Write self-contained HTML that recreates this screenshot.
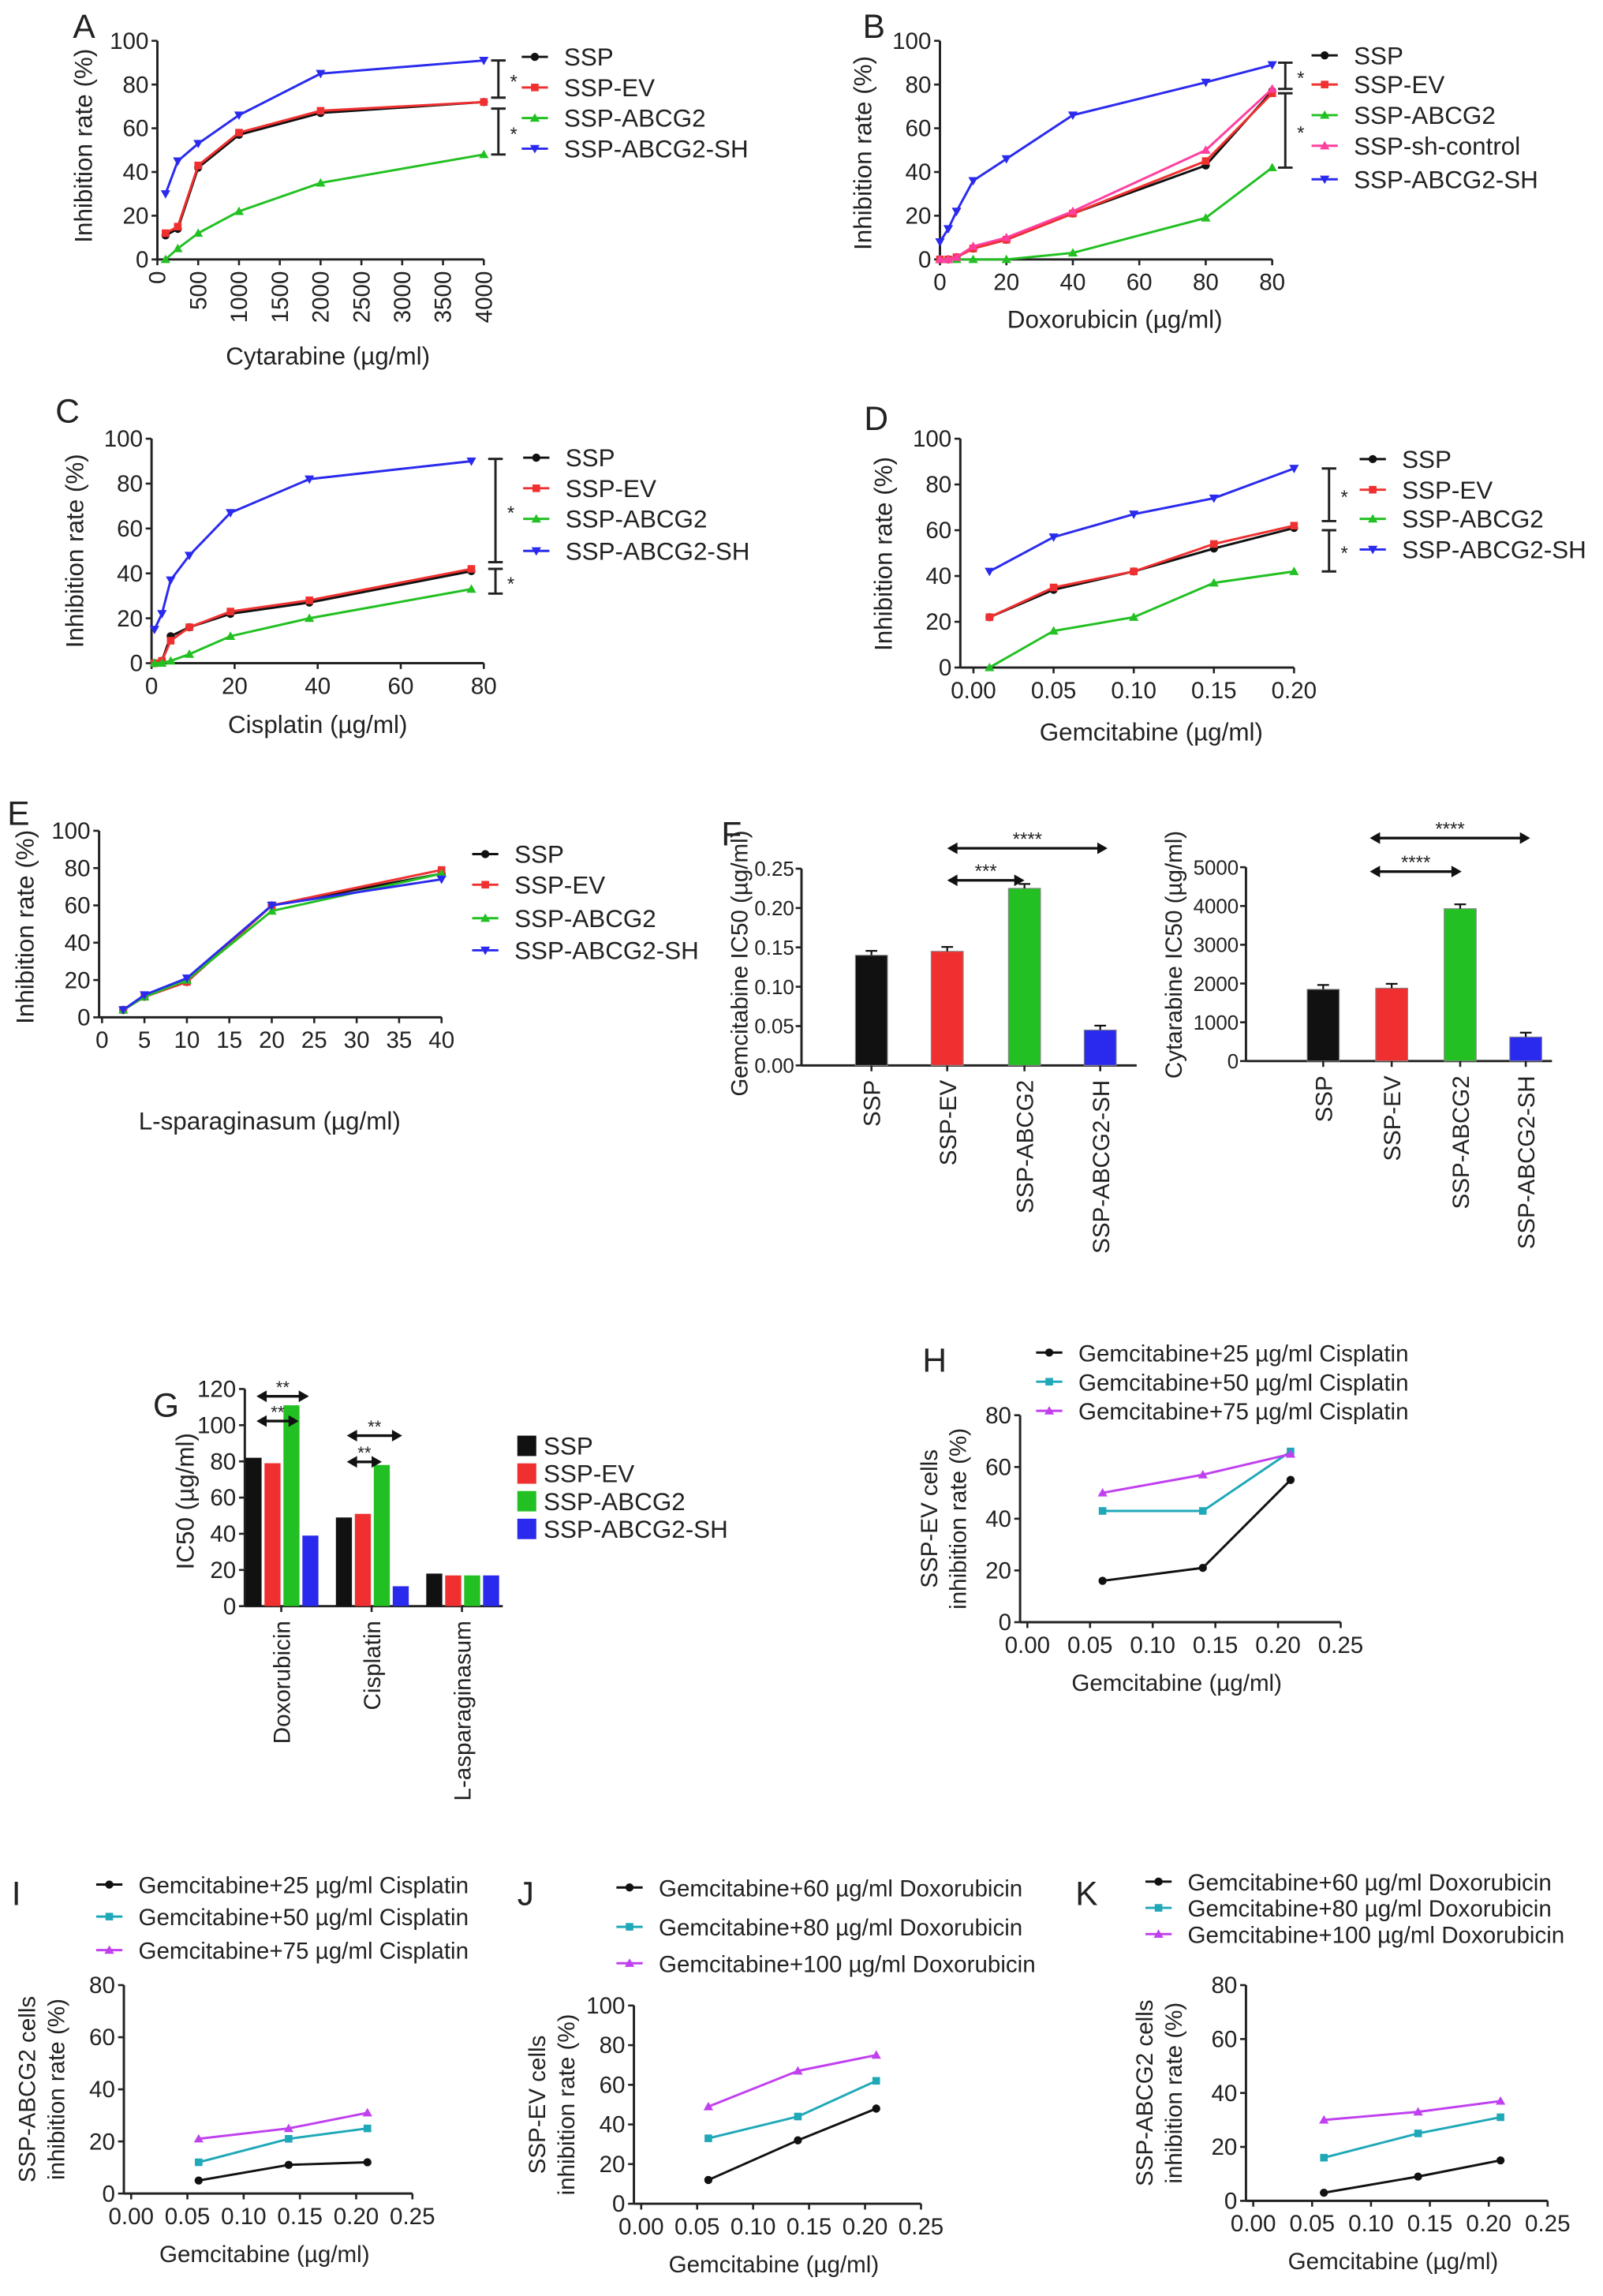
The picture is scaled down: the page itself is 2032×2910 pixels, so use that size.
<!DOCTYPE html>
<html><head><meta charset="utf-8"><style>
html,body{margin:0;padding:0;background:#fff}
svg{display:block}
text{font-family:"Liberation Sans",sans-serif;fill:#222}
</style></head><body>
<svg id="fig" width="2032" height="2910" viewBox="0 0 1100 1575.3" xmlns="http://www.w3.org/2000/svg"></svg>
<script>
// ===== Data =====
const seriesNames4=["SSP","SSP-EV","SSP-ABCG2","SSP-ABCG2-SH"];
const seriesNamesB=["SSP","SSP-EV","SSP-ABCG2","SSP-sh-control","SSP-ABCG2-SH"];
// A
const aX=[100,250,500,1000,2000,4000];
const aSSP=[11,14,42,57,67,72];
const aEV=[12,15,43,58,68,72];
const aABCG2=[0,5,12,22,35,48];
const aSH=[30,45,53,66,85,91];
const aXTicks=[0,500,1000,1500,2000,2500,3000,3500,4000];
// B
const bX=[0,2.5,5,10,20,40,80,100];
const bSSP=[0,0,1,5,9,21,43,77];
const bEV=[0,0,1,5,9,21,45,76];
const bABCG2=[0,0,0,0,0,3,19,42];
const bCtrl=[0,0,1,6,10,22,50,78];
const bSH=[8,14,22,36,46,66,81,89];
const bXTickVals=[0,20,40,60,80,100];
const bXTickLabels=["0","20","40","60","80","80"];
// C
const cX=[0.7,2.5,4.6,9.1,19,38,77];
const cSSP=[0,1,12,16,22,27,41];
const cEV=[0,1,10,16,23,28,42];
const cABCG2=[0,0,1,4,12,20,33];
const cSH=[15,22,37,48,67,82,90];
const cXTicks=[0,20,40,60,80];
// D
const dX=[0.01,0.05,0.10,0.15,0.20];
const dSSP=[22,34,42,52,61];
const dEV=[22,35,42,54,62];
const dABCG2=[0,16,22,37,42];
const dSH=[42,57,67,74,87];
const dXTicks=[0,0.05,0.10,0.15,0.20];
// E
const eX=[2.5,5,10,20,40];
const eSSP=[4,11,19,60,77];
const eEV=[4,11,19,60,79];
const eABCG2=[4,11,20,57,77];
const eSH=[4,12,21,60,74];
const eXTicks=[0,5,10,15,20,25,30,35,40];
// F
const fCats=["SSP","SSP-EV","SSP-ABCG2","SSP-ABCG2-SH"];
const fGem=[0.14,0.145,0.225,0.045];
const fCyt=[1850,1880,3930,620];
// G
const gGroups=["Doxorubicin","Cisplatin","L-asparaginasum"];
const gSSP=[82,49,18];
const gEV=[79,51,17];
const gABCG2=[111,78,17];
const gSH=[39,11,17];
// H-K
const hkX=[0.06,0.14,0.21];
const hkXTicks=[0,0.05,0.10,0.15,0.20,0.25];
const h25=[16,21,55], h50=[43,43,66], h75=[50,57,65];
const i25=[5,11,12], i50=[12,21,25], i75=[21,25,31];
const j60=[12,32,48], j80=[33,44,62], j100=[49,67,75];
const k60=[3,9,15], k80=[16,25,31], k100=[30,33,37];
const cisNames=["Gemcitabine+25 µg/ml Cisplatin","Gemcitabine+50 µg/ml Cisplatin","Gemcitabine+75 µg/ml Cisplatin"];
const doxNames=["Gemcitabine+60 µg/ml Doxorubicin","Gemcitabine+80 µg/ml Doxorubicin","Gemcitabine+100 µg/ml Doxorubicin"];

// ===== helpers =====
const NS="http://www.w3.org/2000/svg";
const svg=document.getElementById('fig');
function el(tag,attrs,parent,txt){const e=document.createElementNS(NS,tag);for(const k in attrs)e.setAttribute(k,attrs[k]);if(txt!==undefined)e.textContent=txt;(parent||svg).appendChild(e);return e;}
function grp(name,parent){const g=el('g',{},parent);


return g;}
const COL={k:"#111",r:"#f03030",g:"#22c022",b:"#2a2aee",p:"#ff3fa0",c:"#1fa8b8",m:"#c040f0"};
function marker(g,shape,x,y,c){
  if(shape==='circle')el('circle',{cx:x,cy:y,r:2.8,fill:c},g);
  else if(shape==='square')el('rect',{x:x-2.6,y:y-2.6,width:5.2,height:5.2,fill:c},g);
  else if(shape==='tri')el('polygon',{points:`${x},${y-3.3} ${x-3.3},${y+2.5} ${x+3.3},${y+2.5}`,fill:c},g);
  else if(shape==='tridown')el('polygon',{points:`${x},${y+3.3} ${x-3.3},${y-2.5} ${x+3.3},${y-2.5}`,fill:c},g);
}
function fmt(v,d){return d?v.toFixed(d):String(v);}
function axes(g,c){
  const sx=v=>c.x0+(v-c.xmin)/(c.xmax-c.xmin)*(c.x1-c.x0);
  const sy=v=>c.y0+(v-c.ymin)/(c.ymax-c.ymin)*(c.y1-c.y0);
  el('line',{x1:c.ax,y1:c.y0,x2:c.ax,y2:c.y1,stroke:"#222","stroke-width":1.6},g);
  el('line',{x1:c.ax,y1:c.y0,x2:c.axEnd,y2:c.y0,stroke:"#222","stroke-width":1.6},g);
  for(let v=c.ymin;v<=c.ymax+1e-9;v+=c.ystep){const y=sy(v);
    el('line',{x1:c.ax-4,y1:y,x2:c.ax,y2:y,stroke:"#222","stroke-width":1.4},g);
    const t=el('text',{x:c.ax-6,y:y+5.5,"text-anchor":"end","font-size":c.fs||16},g,fmt(v,c.yd));
    
    
  }
  if(c.xticks){c.xticks.forEach((v,i)=>{const x=sx(v);
    el('line',{x1:x,y1:c.y0,x2:x,y2:c.y0+4,stroke:"#222","stroke-width":1.4},g);
    const lab=c.xlabels?c.xlabels[i]:fmt(v,c.xd);
    let t;
    if(c.rotX){t=el('text',{x:x+5.5,y:c.y0+8,"text-anchor":"end","font-size":c.fs||16,transform:`rotate(-90 ${x+5.5} ${c.y0+8})`},g,lab);}
    else t=el('text',{x:x,y:c.y0+21,"text-anchor":"middle","font-size":c.fs||16},g,lab);
    
    
  });}
  return {sx,sy};
}
function series(g,s,sx,sy,xs,ys,color,shape,name){
  const sg=grp('series-'+name,g);
  el('polyline',{points:xs.map((x,i)=>sx(x)+","+sy(ys[i])).join(" "),fill:"none",stroke:color,"stroke-width":1.6},sg);
  xs.forEach((x,i)=>{marker(sg,shape,sx(x),sy(ys[i]),color);});
}
function legend(g,x,ys,names,colors,shapes,fs){
  names.forEach((n,i)=>{const lg=grp('legend-entry',g);
    el('line',{x1:x-9,y1:ys[i],x2:x+9,y2:ys[i],stroke:colors[i],"stroke-width":1.6},lg);
    marker(lg,shapes[i],x,ys[i],colors[i]);
    el('text',{x:x+20,y:ys[i]+6,"font-size":fs||17},lg,n);
  });
}
function title(g,x,y,t,rot,fs,name){const a={x:x,y:y,"text-anchor":"middle","font-size":fs||16};if(rot)a.transform=`rotate(-90 ${x} ${y})`;const e=el('text',a,g,t);
  
  return e;}
function letter(g,x,y,t){const e=el('text',{x:x,y:y,"font-size":23},g,t);
  
  }
function bracket(g,x,ya,yb,star){el('line',{x1:x,y1:ya,x2:x,y2:yb,stroke:"#222","stroke-width":1.6},g);
  el('line',{x1:x-5,y1:ya,x2:x+5,y2:ya,stroke:"#222","stroke-width":1.6},g);
  el('line',{x1:x-5,y1:yb,x2:x+5,y2:yb,stroke:"#222","stroke-width":1.6},g);
  el('text',{x:x+8,y:(ya+yb)/2+6,"font-size":13},g,star);}
function arrow(g,xa,xb,y,label,fs){el('line',{x1:xa+4,y1:y,x2:xb-4,y2:y,stroke:"#111","stroke-width":1.8},g);
  el('polygon',{points:`${xa},${y} ${xa+7},${y-4} ${xa+7},${y+4}`,fill:"#111"},g);
  el('polygon',{points:`${xb},${y} ${xb-7},${y-4} ${xb-7},${y+4}`,fill:"#111"},g);
  el('text',{x:(xa+xb)/2,y:y-2,"text-anchor":"middle","font-size":fs||13},g,label);}
const C4=[COL.k,COL.r,COL.g,COL.b], S4=['circle','square','tri','tridown'];

// ===== Panel A =====
{const g=grp('panel-a');letter(g,50,26,"A");
const {sx,sy}=axes(g,{ax:108,axEnd:332,x0:108,x1:332,xmin:0,xmax:4000,y0:178,y1:28,ymin:0,ymax:100,ystep:20,xticks:aXTicks,rotX:true});
[aSSP,aEV,aABCG2,aSH].forEach((d,i)=>series(g,0,sx,sy,aX,d,C4[i],S4[i],seriesNames4[i]));
bracket(g,342,sy(91),sy(74),"*");bracket(g,342,sy(69),sy(48),"*");
legend(g,367,[39,60,81,102],seriesNames4,C4,S4);
title(g,63,100,"Inhibition rate (%)",true,17,'y-axis-title');title(g,225,250,"Cytarabine (µg/ml)",false,17,'x-axis-title');}

// ===== Panel B =====
{const g=grp('panel-b');letter(g,592,26,"B");
const {sx,sy}=axes(g,{ax:645,axEnd:873,x0:645,x1:873,xmin:0,xmax:100,y0:178,y1:28,ymin:0,ymax:100,ystep:20,xticks:bXTickVals,xlabels:bXTickLabels});
const cols=[COL.k,COL.r,COL.g,COL.p,COL.b],sh=['circle','square','tri','tri','tridown'];
[bSSP,bEV,bABCG2,bCtrl,bSH].forEach((d,i)=>series(g,0,sx,sy,bX,d,cols[i],sh[i],seriesNamesB[i]));
bracket(g,882,sy(90),sy(78),"*");bracket(g,882,sy(76),sy(42),"*");
legend(g,909,[38,58,79,100,123],seriesNamesB,cols,sh);
title(g,598,105,"Inhibition rate (%)",true,17,'y-axis-title');title(g,765,225,"Doxorubicin (µg/ml)",false,17,'x-axis-title');}

// ===== Panel C =====
{const g=grp('panel-c');letter(g,38,290,"C");
const {sx,sy}=axes(g,{ax:104,axEnd:332,x0:104,x1:332,xmin:0,xmax:80,y0:455,y1:301,ymin:0,ymax:100,ystep:20,xticks:cXTicks});
[cSSP,cEV,cABCG2,cSH].forEach((d,i)=>series(g,0,sx,sy,cX,d,C4[i],S4[i],seriesNames4[i]));
bracket(g,340,sy(91),sy(45),"*");bracket(g,340,sy(42),sy(31),"*");
legend(g,368,[314,335,356,378],seriesNames4,C4,S4);
title(g,57,378,"Inhibition rate (%)",true,17,'y-axis-title');title(g,218,503,"Cisplatin (µg/ml)",false,17,'x-axis-title');}

// ===== Panel D =====
{const g=grp('panel-d');letter(g,593,295,"D");
const {sx,sy}=axes(g,{ax:659,axEnd:888,x0:668,x1:888,xmin:0,xmax:0.2,y0:458,y1:301,ymin:0,ymax:100,ystep:20,xticks:dXTicks,xd:2});
[dSSP,dEV,dABCG2,dSH].forEach((d,i)=>series(g,0,sx,sy,dX,d,C4[i],S4[i],seriesNames4[i]));
bracket(g,912,sy(87),sy(64),"*");bracket(g,912,sy(60),sy(42),"*");
legend(g,942,[315,336,356,377],seriesNames4,C4,S4);
title(g,612,380,"Inhibition rate (%)",true,17,'y-axis-title');title(g,790,508,"Gemcitabine (µg/ml)",false,17,'x-axis-title');}

// ===== Panel E =====
{const g=grp('panel-e');letter(g,5,566,"E");
const {sx,sy}=axes(g,{ax:68,axEnd:303,x0:70,x1:303,xmin:0,xmax:40,y0:698,y1:570,ymin:0,ymax:100,ystep:20,xticks:eXTicks});
[eSSP,eEV,eABCG2,eSH].forEach((d,i)=>series(g,0,sx,sy,eX,d,C4[i],S4[i],seriesNames4[i]));
legend(g,333,[586,607,630,652],seriesNames4,C4,S4);
title(g,23,636,"Inhibition rate (%)",true,17,'y-axis-title');title(g,185,775,"L-sparaginasum (µg/ml)",false,17,'x-axis-title');}

// ===== Panel F =====
{const g=grp('panel-f');letter(g,495,580,"F");
function bars(c,vals,step,yd,name){const gg=grp(name,g);
  const sy=v=>c.y0+(v/c.ymax)*(c.y1-c.y0);
  el('line',{x1:c.ax,y1:c.y0,x2:c.ax,y2:c.y1,stroke:"#222","stroke-width":1.6},gg);
  el('line',{x1:c.ax,y1:c.y0,x2:c.axEnd,y2:c.y0,stroke:"#222","stroke-width":1.6},gg);
  for(let v=0;v<=c.ymax+1e-9;v+=step){const y=sy(v);el('line',{x1:c.ax-4,y1:y,x2:c.ax,y2:y,stroke:"#222","stroke-width":1.4},gg);
    el('text',{x:c.ax-5,y:y+5,"text-anchor":"end","font-size":14},gg,fmt(v,yd));}
  vals.forEach((v,i)=>{const x=c.cx[i];const b=el('rect',{x:x-11,y:sy(v),width:22,height:c.y0-sy(v),fill:C4[i],stroke:"#888","stroke-width":0.6},gg);
    
    
    el('line',{x1:x,y1:sy(v)-3,x2:x,y2:sy(v),stroke:"#111","stroke-width":1.2},gg);
    el('line',{x1:x-4,y1:sy(v)-3,x2:x+4,y2:sy(v)-3,stroke:"#111","stroke-width":1.2},gg);
    el('line',{x1:x,y1:c.y0,x2:x,y2:c.y0+4,stroke:"#222","stroke-width":1.4},gg);
    el('text',{x:x+6,y:c.y0+10,"text-anchor":"end","font-size":16,transform:`rotate(-90 ${x+6} ${c.y0+10})`},gg,fCats[i]);});
  return sy;}
const cL={ax:550,axEnd:780,y0:731,y1:596,ymax:0.25,cx:[598,650,703,755]};
bars(cL,fGem,0.05,2,'gemcitabine-ic50-chart');
arrow(g,650,760,582,"****");arrow(g,650,703,604,"***");
title(g,513,661,"Gemcitabine IC50 (µg/ml)",true,16,'y-axis-title');
const cR={ax:855,axEnd:1065,y0:728,y1:595,ymax:5000,cx:[908,955,1002,1047]};
bars(cR,fCyt,1000,0,'cytarabine-ic50-chart');
arrow(g,940,1050,575,"****");arrow(g,940,1003,598,"****");
title(g,811,655,"Cytarabine IC50 (µg/ml)",true,16,'y-axis-title');}

// ===== Panel G =====
{const g=grp('panel-g');letter(g,105,972,"G");
const y0=1102,y1=953,ymax=120,sy=v=>y0+v/ymax*(y1-y0);
el('line',{x1:168,y1:y0,x2:168,y2:y1,stroke:"#222","stroke-width":1.6},g);
el('line',{x1:168,y1:y0,x2:345,y2:y0,stroke:"#222","stroke-width":1.6},g);
for(let v=0;v<=120;v+=20){const y=sy(v);el('line',{x1:164,y1:y,x2:168,y2:y,stroke:"#222","stroke-width":1.4},g);el('text',{x:162,y:y+5.5,"text-anchor":"end","font-size":16},g,v);}
const gc=[193,255,317];
[gSSP,gEV,gABCG2,gSH].forEach((arr,si)=>{arr.forEach((v,gi)=>{const x=gc[gi]-19+si*13;
  const b=el('rect',{x:x-5.5,y:sy(v),width:11,height:y0-sy(v),fill:C4[si]},g);
  
  });});
gGroups.forEach((n,i)=>{el('line',{x1:gc[i],y1:y0,x2:gc[i],y2:y0+4,stroke:"#222","stroke-width":1.4},g);
  el('text',{x:gc[i]+6,y:y0+10,"text-anchor":"end","font-size":16,transform:`rotate(-90 ${gc[i]+6} ${y0+10})`},g,n);});
arrow(g,176,205,975,"**",12);arrow(g,176,212,958,"**",12);
arrow(g,238,262,1003,"**",12);arrow(g,238,276,985,"**",12);
seriesNames4.forEach((n,i)=>{const lg=grp('legend-entry',g);el('rect',{x:355,y:985+i*19,width:13,height:14,fill:C4[i]},lg);el('text',{x:373,y:998+i*19,"font-size":17},lg,n);});
title(g,133,1030,"IC50 (µg/ml)",true,17,'y-axis-title');}

// ===== H–K =====
function comboPanel(name,L,cfg,d,names,legX,legYs,ytitleX,line1){
  const g=grp(name);letter(g,L[1],L[2],L[0]);
  const {sx,sy}=axes(g,cfg);
  const cols=[COL.k,COL.c,COL.m],sh=['circle','square','tri'];
  d.forEach((arr,i)=>series(g,0,sx,sy,hkX,arr,cols[i],sh[i],'combo-'+i));
  legend(g,legX,legYs,names,cols,sh,16);
  const my=(cfg.y0+cfg.y1)/2;
  title(g,ytitleX,my,line1,true,16,'y-axis-title');title(g,ytitleX+20,my,"inhibition rate (%)",true,16,'y-axis-title');
  title(g,(cfg.x0+cfg.x1)/2-5,cfg.y0+47,"Gemcitabine (µg/ml)",false,16,'x-axis-title');
}
comboPanel('panel-h',["H",633,941],{ax:700,axEnd:920,x0:705,x1:920,xmin:0,xmax:0.25,y0:1113,y1:971,ymin:0,ymax:80,ystep:20,xticks:hkXTicks,xd:2},[h25,h50,h75],cisNames,720,[928,948,968],643,"SSP-EV cells");
comboPanel('panel-i',["I",8,1307],{ax:85,axEnd:283,x0:90,x1:283,xmin:0,xmax:0.25,y0:1505,y1:1362,ymin:0,ymax:80,ystep:20,xticks:hkXTicks,xd:2},[i25,i50,i75],cisNames,75,[1293,1315,1338],24,"SSP-ABCG2 cells");
comboPanel('panel-j',["J",355,1307],{ax:435,axEnd:632,x0:440,x1:632,xmin:0,xmax:0.25,y0:1512,y1:1376,ymin:0,ymax:100,ystep:20,xticks:hkXTicks,xd:2},[j60,j80,j100],doxNames,432,[1295,1322,1347],374,"SSP-EV cells");
comboPanel('panel-k',["K",738,1307],{ax:855,axEnd:1062,x0:860,x1:1062,xmin:0,xmax:0.25,y0:1510,y1:1362,ymin:0,ymax:80,ystep:20,xticks:hkXTicks,xd:2},[k60,k80,k100],doxNames,795,[1291,1309,1327],791,"SSP-ABCG2 cells");
</script>
</body></html>
